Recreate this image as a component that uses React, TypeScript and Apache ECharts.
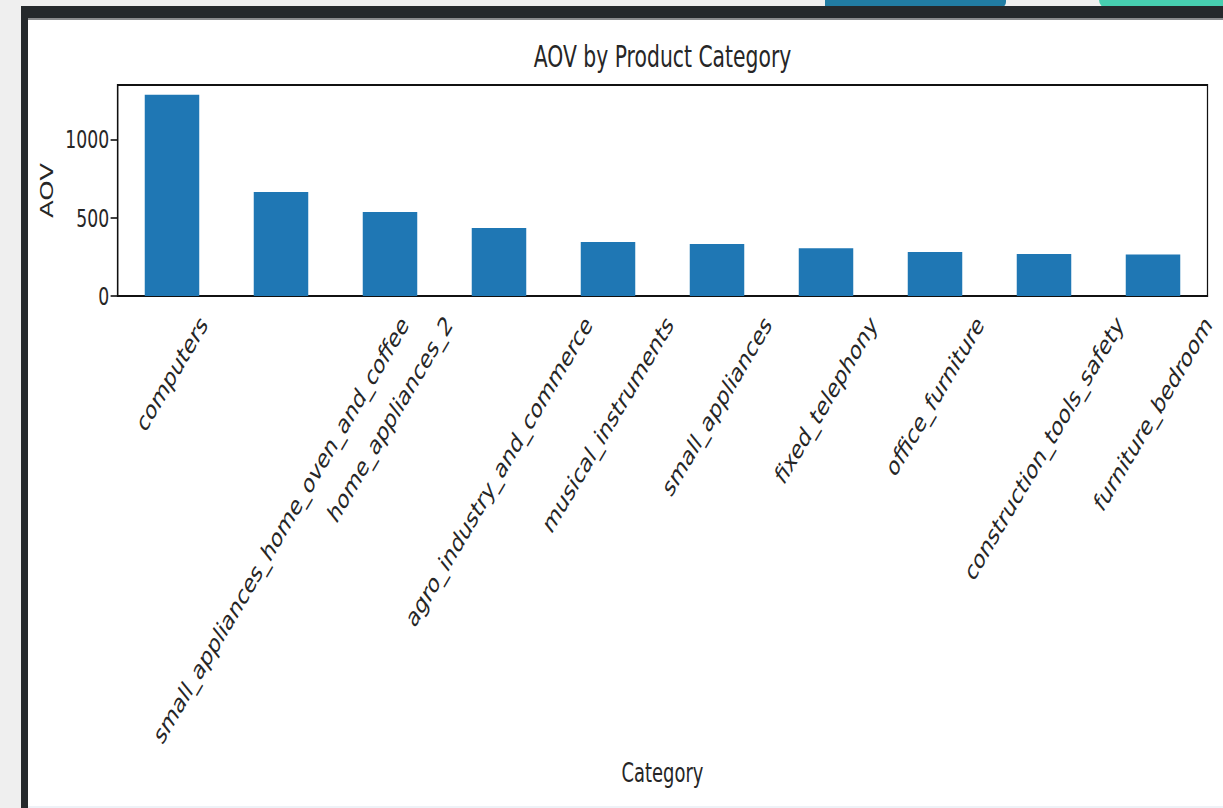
import React, { useEffect, useRef } from "react";
import * as echarts from "echarts";

const categories: string[] = [
  "computers",
  "small_appliances_home_oven_and_coffee",
  "home_appliances_2",
  "agro_industry_and_commerce",
  "musical_instruments",
  "small_appliances",
  "fixed_telephony",
  "office_furniture",
  "construction_tools_safety",
  "furniture_bedroom",
];
const aovValues: number[] = [1288, 665, 537, 435, 345, 332, 305, 281, 268, 266];
const yTickInterval = 500;
const yMax = 1350;

const titleText = "AOV by Product Category";
const xName = "Category";
const yName = "AOV";

// horizontal squash of the screenshot
const S = 0.69;
const PANEL_X = 28;
const PANEL_Y = 20;
const W = Math.round((1223 - PANEL_X) / S);
const H = 808 - PANEL_Y;
const plotL = (117.5 - PANEL_X) / S;
const plotR = (1207.5 - PANEL_X) / S;
const FONT = '"DejaVu Sans", sans-serif';
const TXT = "#262626";
const LABEL_SIZE = 26.6;
const ROT = 49.5;

export default function App() {
  const ref = useRef<HTMLDivElement>(null);

  useEffect(() => {
    document.body.style.margin = "0";
    document.body.style.overflow = "hidden";
    const el = ref.current!;
    const chart = echarts.init(el, null, { renderer: "svg" });
    chart.setOption({
      animation: false,
      backgroundColor: "#ffffff",
      title: {
        text: titleText,
        left: (plotL + plotR) / 2,
        textAlign: "center",
        top: 22,
        padding: 0,
        textStyle: { fontFamily: FONT, fontSize: 29.5, fontWeight: "normal", color: TXT },
      },
      grid: {
        left: plotL,
        right: W - plotR,
        top: 65,
        bottom: 512,
        show: true,
        borderColor: "#111",
        borderWidth: 1.8,
        backgroundColor: "transparent",
      },
      xAxis: {
        type: "category",
        data: categories,
        name: xName,
        nameLocation: "middle",
        nameGap: 464,
        nameTextStyle: { fontFamily: FONT, fontSize: 26, color: TXT },
        axisLine: { lineStyle: { color: "#111", width: 1.8 } },
        axisTick: { alignWithLabel: true, length: 10, lineStyle: { color: "#111", width: 1.6 } },
        axisLabel: { show: false },
      },
      yAxis: {
        type: "value",
        min: 0,
        max: yMax,
        interval: yTickInterval,
        name: yName,
        nameLocation: "middle",
        nameGap: 90,
        nameTextStyle: { fontFamily: FONT, fontSize: 26, color: TXT },
        splitLine: { show: false },
        axisLine: { show: true, lineStyle: { color: "#111", width: 2 } },
        axisTick: { show: true, length: 10, lineStyle: { color: "#111", width: 1.6 } },
        axisLabel: {
          margin: 12,
          fontFamily: FONT,
          fontSize: 25,
          color: TXT,
          showMaxLabel: false,
          formatter: (v: number) => (v % yTickInterval === 0 ? String(v) : ""),
        },
      },
      series: [
        {
          type: "bar",
          data: aovValues,
          barWidth: "50%",
          itemStyle: { color: "#1f77b4" },
        },
      ],
    });

    const ctx = document.createElement("canvas").getContext("2d")!;
    ctx.font = `${LABEL_SIZE}px "DejaVu Sans"`;
    const y0 = (chart.convertToPixel({ yAxisIndex: 0 }, 0) as number) + 15;
    const th = (ROT * Math.PI) / 180;
    const elements = categories.map((c, i) => {
      const x = chart.convertToPixel({ xAxisIndex: 0 }, i) as number;
      const L = ctx.measureText(c).width;
      const h = LABEL_SIZE;
      const cy = y0 + (L * Math.sin(th) + h * Math.cos(th)) / 2;
      return {
        type: "text",
        x,
        y: cy,
        rotation: th,
        silent: true,
        style: {
          text: c,
          fontSize: LABEL_SIZE,
          fontFamily: FONT,
          fill: TXT,
          align: "center",
          verticalAlign: "middle",
          textAlign: "center",
          textVerticalAlign: "middle",
        },
      };
    });
    chart.setOption({ graphic: { elements } });

    return () => chart.dispose();
  }, []);

  return (
    <div
      style={{
        position: "fixed",
        left: 0,
        top: 0,
        width: 1223,
        height: 808,
        overflow: "hidden",
        background: "#efefef",
      }}
    >
      <div style={{ position: "absolute", left: 825, top: 0, width: 181, height: 8, background: "#217ca3", borderBottomRightRadius: 6 }} />
      <div style={{ position: "absolute", left: 1099, top: 0, width: 130, height: 8, background: "#47cfb0", borderBottomLeftRadius: 8 }} />
      <div style={{ position: "absolute", left: 21, top: 6, width: 1202, height: 12, background: "#25292c" }} />
      <div style={{ position: "absolute", left: 21, top: 18, width: 1202, height: 2, background: "#8a8c8e" }} />
      <div style={{ position: "absolute", left: 21, top: 6, width: 7, height: 802, background: "#25292c" }} />
      <div style={{ position: "absolute", left: PANEL_X, top: PANEL_Y, width: 1223 - PANEL_X, height: H, background: "#ffffff", overflow: "hidden" }}>
        <div
          ref={ref}
          style={{
            position: "absolute",
            left: 0,
            top: 0,
            width: W,
            height: H,
            transform: `scaleX(${S})`,
            transformOrigin: "0 0",
          }}
        />
      </div>
      <div style={{ position: "absolute", left: PANEL_X, top: 806, width: 1223 - PANEL_X, height: 2, background: "#eef2f7" }} />
    </div>
  );
}
